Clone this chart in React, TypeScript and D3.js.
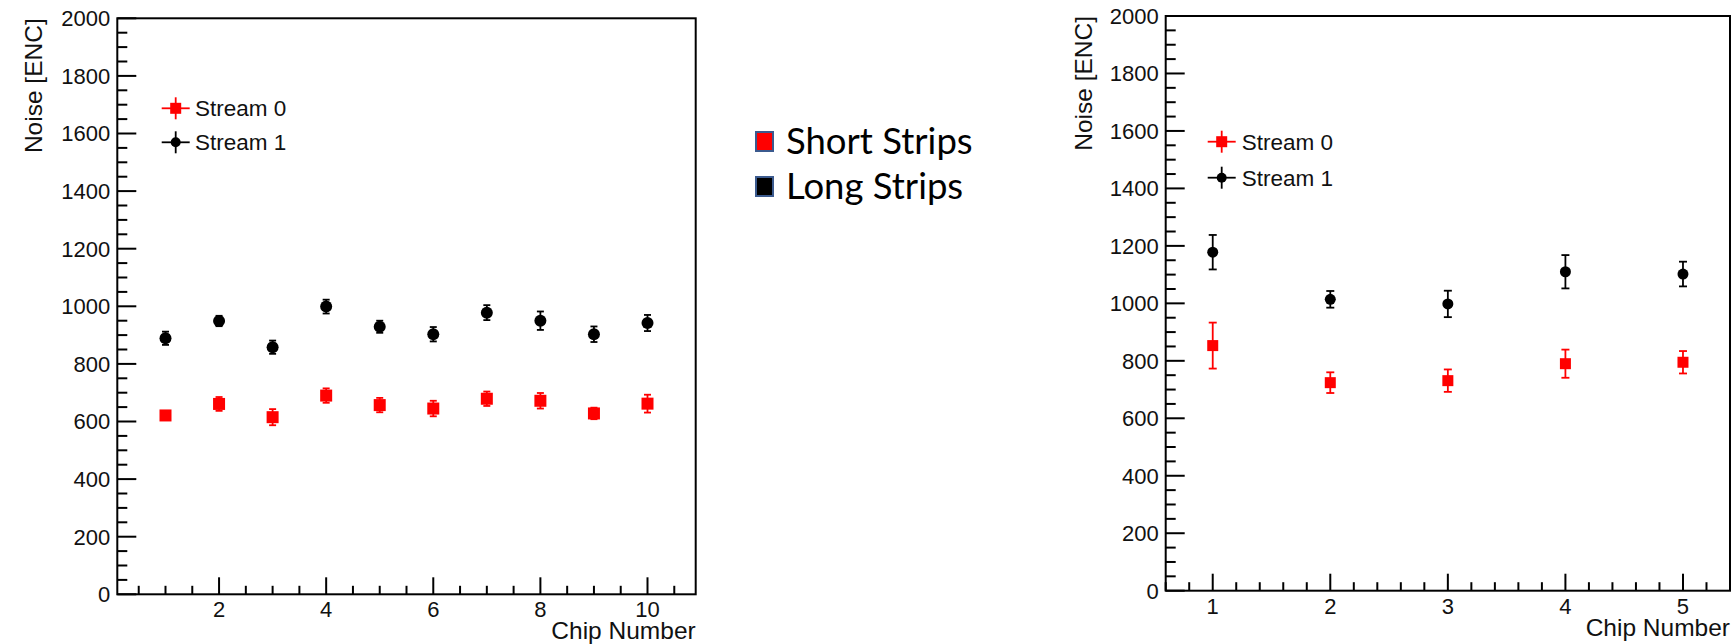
import React from "react";
import * as d3 from "d3";

// chip numbers
const chipsShort = [1, 2, 3, 4, 5, 6, 7, 8, 9, 10];
const chipsLong = [1, 2, 3, 4, 5];

// left plot (short strips)
const shortStream0 = [621, 661, 615, 690, 657, 645, 679, 672, 628, 662];
const shortStream0Err = [12, 24, 28, 25, 25, 27, 25, 27, 20, 31];
const shortStream1 = [889, 949, 858, 999, 929, 903, 978, 950, 903, 942];
const shortStream1Err = [23, 18, 23, 24, 21, 25, 26, 32, 27, 28];

// right plot (long strips)
const longStream0 = [853, 724, 731, 790, 795];
const longStream0Err = [80, 36, 39, 49, 39];
const longStream1 = [1178, 1014, 998, 1110, 1102];
const longStream1Err = [60, 29, 46, 58, 43];

const yTickValues = [0, 200, 400, 600, 800, 1000, 1200, 1400, 1600, 1800, 2000];
const xTicksShort = [2, 4, 6, 8, 10];
const xTicksLong = [1, 2, 3, 4, 5];
const seriesNames = ["Stream 0", "Stream 1"];
const stripLabels = ["Short Strips", "Long Strips"];

const ROOT_FONT = "'Liberation Sans', Arial, Helvetica, sans-serif";
const RED = "#ff0000";

type PanelProps = {
  box: {x0: number; x1: number; y0: number; y1: number};
  xDomain: [number, number];
  xMajor: number[];
  xMinorStep: number;
  chips: number[];
  s0: number[];
  s0Err: number[];
  s1: number[];
  s1Err: number[];
  legend: {x: number; y: number; gap: number; textX: number};
  titleX: number;
  capW: number;
  markSize: number;
};

const Panel = (props: PanelProps) => {
  const {box, xDomain, xMajor, xMinorStep, chips, s0, s0Err, s1, s1Err, legend, titleX, capW, markSize} = props;
  const x = d3.scaleLinear().domain(xDomain).range([box.x0, box.x1]);
  const y = d3.scaleLinear().domain([0, 2000]).range([box.y1, box.y0]);

  const yMinor = d3.range(0, 2001, 50).filter(v => v % 200 !== 0);
  const xMinor = d3
    .range(Math.ceil(xDomain[0] / xMinorStep) * xMinorStep, xDomain[1], xMinorStep)
    .filter(v => !xMajor.some(m => Math.abs(m - v) < 1e-6));

  const errBar = (cx: number, v: number, e: number, colour: string, key: string) => (
    <g key={key} stroke={colour} strokeWidth={1.8}>
      <line x1={cx} x2={cx} y1={y(v - e)} y2={y(v + e)} />
      <line x1={cx - capW} x2={cx + capW} y1={y(v - e)} y2={y(v - e)} />
      <line x1={cx - capW} x2={cx + capW} y1={y(v + e)} y2={y(v + e)} />
    </g>
  );

  return (
    <g>
      {/* data */}
      {chips.map((c, i) => errBar(x(c), s0[i], s0Err[i], RED, "e0" + i))}
      {chips.map((c, i) => (
        <rect key={"m0" + i} x={x(c) - markSize / 2} y={y(s0[i]) - markSize / 2}
              width={markSize} height={markSize} fill={RED} />
      ))}
      {chips.map((c, i) => errBar(x(c), s1[i], s1Err[i], "#000", "e1" + i))}
      {chips.map((c, i) => (
        <circle key={"m1" + i} cx={x(c)} cy={y(s1[i])} r={markSize / 2} fill="#000" />
      ))}

      {/* frame */}
      <rect x={box.x0} y={box.y0} width={box.x1 - box.x0} height={box.y1 - box.y0}
            fill="none" stroke="#000" strokeWidth={2} />

      {/* y axis */}
      {yTickValues.map(v => (
        <g key={"yt" + v}>
          <line x1={box.x0} x2={box.x0 + 19} y1={y(v)} y2={y(v)} stroke="#000" strokeWidth={2} />
          <text x={box.x0 - 7} y={y(v)} dy="0.36em" textAnchor="end" fontSize={22}
                fontFamily={ROOT_FONT} fill="#111">{v}</text>
        </g>
      ))}
      {yMinor.map(v => (
        <line key={"ym" + v} x1={box.x0} x2={box.x0 + 10} y1={y(v)} y2={y(v)} stroke="#000" strokeWidth={2} />
      ))}

      {/* x axis */}
      {xMajor.map(v => (
        <g key={"xt" + v}>
          <line x1={x(v)} x2={x(v)} y1={box.y1} y2={box.y1 - 17} stroke="#000" strokeWidth={2} />
          <text x={x(v)} y={box.y1 + 23} textAnchor="middle" fontSize={22}
                fontFamily={ROOT_FONT} fill="#111">{v}</text>
        </g>
      ))}
      {xMinor.map(v => (
        <line key={"xm" + v} x1={x(v)} x2={x(v)} y1={box.y1} y2={box.y1 - 8.5} stroke="#000" strokeWidth={2} />
      ))}

      {/* titles */}
      <text x={box.x1} y={box.y1 + 45} textAnchor="end" fontSize={24.5}
            fontFamily={ROOT_FONT} fill="#111">Chip Number</text>
      <text transform={`translate(${titleX},${box.y0}) rotate(-90)`} textAnchor="end" fontSize={24.5}
            fontFamily={ROOT_FONT} fill="#111">Noise [ENC]</text>

      {/* legend */}
      {seriesNames.map((name, i) => {
        const ly = legend.y + i * legend.gap;
        const colour = i === 0 ? RED : "#000";
        return (
          <g key={name}>
            <line x1={legend.x - 14} x2={legend.x + 14} y1={ly} y2={ly} stroke={colour} strokeWidth={1.8} />
            <line x1={legend.x} x2={legend.x} y1={ly - 11} y2={ly + 11} stroke={colour} strokeWidth={1.8} />
            {i === 0
              ? <rect x={legend.x - 5.5} y={ly - 5.5} width={11} height={11} fill={colour} />
              : <circle cx={legend.x} cy={ly} r={5} fill={colour} />}
            <text x={legend.textX} y={ly} dy="0.36em" fontSize={22.5} fontFamily={ROOT_FONT} fill="#111">{name}</text>
          </g>
        );
      })}
    </g>
  );
};

const App = () => {
  return (
    <svg width={1732} height={644} style={{position: "absolute", left: 0, top: 0, background: "#fff"}}>
      <rect width={1732} height={644} fill="#fff" />
      <Panel
        box={{x0: 117.3, x1: 695.7, y0: 18.3, y1: 594.3}}
        xDomain={[0.1, 10.9]}
        xMajor={xTicksShort}
        xMinorStep={0.5}
        chips={chipsShort}
        s0={shortStream0}
        s0Err={shortStream0Err}
        s1={shortStream1}
        s1Err={shortStream1Err}
        legend={{x: 175.7, y: 108.3, gap: 34, textX: 195}}
        titleX={42}
        capW={3.5}
        markSize={12}
      />
      <Panel
        box={{x0: 1165.7, x1: 1730, y0: 16, y1: 590.7}}
        xDomain={[0.6, 5.4]}
        xMajor={xTicksLong}
        xMinorStep={0.2}
        chips={chipsLong}
        s0={longStream0}
        s0Err={longStream0Err}
        s1={longStream1}
        s1Err={longStream1Err}
        legend={{x: 1221.7, y: 141.7, gap: 36, textX: 1241.7}}
        titleX={1092}
        capW={4}
        markSize={11}
      />
      {/* middle legend */}
      {stripLabels.map((label, i) => (
        <g key={label}>
          <rect x={756} y={132 + i * 45} width={17} height={19}
                fill={i === 0 ? RED : "#000"} stroke="#3b5a8e" strokeWidth={2} />
          <text x={786} y={154 + i * 45} fontSize={36.5} fontFamily="Lato, 'Open Sans', sans-serif"
                fill="#000">{label}</text>
        </g>
      ))}
    </svg>
  );
};

export default App;
